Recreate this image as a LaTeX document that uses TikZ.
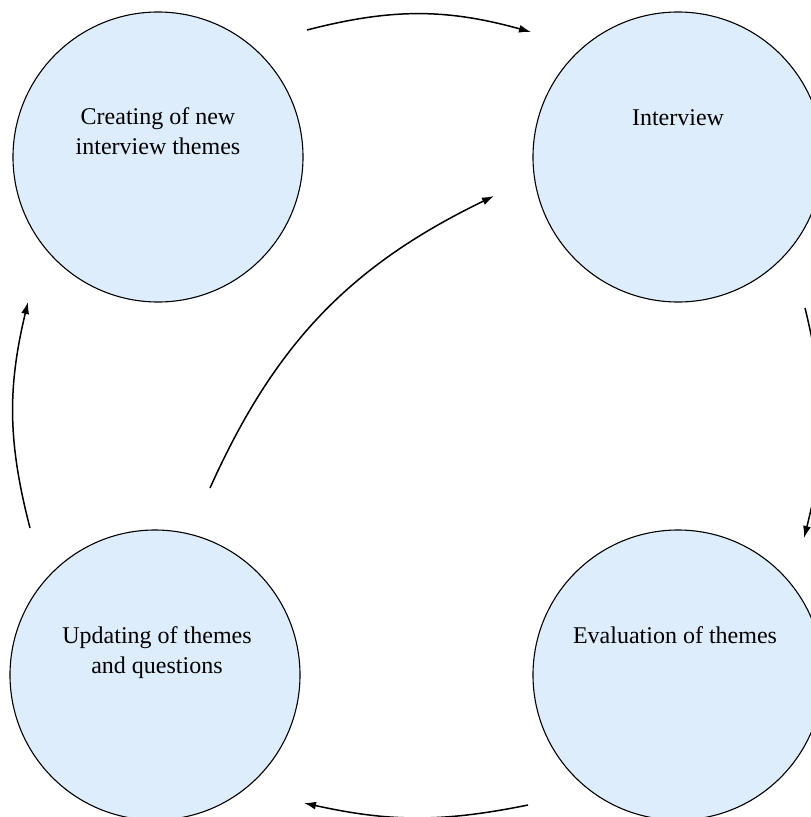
\documentclass[tikz,border=0pt]{standalone}
\usepackage{fontspec}
\setmainfont{Liberation Serif}
\usetikzlibrary{arrows.meta}
\definecolor{bubble}{RGB}{221,237,251}
\begin{document}
\begin{tikzpicture}[x=1pt,y=-1pt,
  stage/.style={circle,draw=black,line width=1.1pt,fill=bubble,minimum size=290pt,inner sep=0pt},
  caption/.style={font=\fontsize{24}{30}\selectfont,align=center,anchor=base,inner sep=0pt},
  flow/.style={line width=1.5pt,-{Latex[length=12pt,width=8pt]}}]
\useasboundingbox (0,0) rectangle (811,817);
\clip (0,0) rectangle (811,817);
\node[stage] (c1) at (158,157) {};
\node[stage] (c2) at (678,157) {};
\node[stage] (c3) at (678,675) {};
\node[stage] (c4) at (155,675) {};
\node[caption] (t1) at (158,154) {Creating of new\\interview themes};
\node[caption] (t2) at (678,125) {Interview};
\node[caption] (t3) at (675,643) {Evaluation of themes};
\node[caption] (t4) at (157,673) {Updating of themes\\and questions};
\coordinate (a1s) at (307,30);  \coordinate (a1e) at (531,32);
\coordinate (a2s) at (805,308); \coordinate (a2e) at (804,538);
\coordinate (a3s) at (528,805); \coordinate (a3e) at (304,803);
\coordinate (a4s) at (30,528);  \coordinate (a4e) at (28,302);
\coordinate (a5s) at (210,488); \coordinate (a5e) at (494,196);
\draw[flow] (a1s) to[bend left=15] (a1e);
\draw[flow] (a2s) to[bend left=14] (a2e);
\draw[flow] (a3s) to[bend left=12] (a3e);
\draw[flow] (a4s) to[bend left=14] (a4e);
\draw[flow] (a5s) to[bend left=20] (a5e);
\end{tikzpicture}
\end{document}
